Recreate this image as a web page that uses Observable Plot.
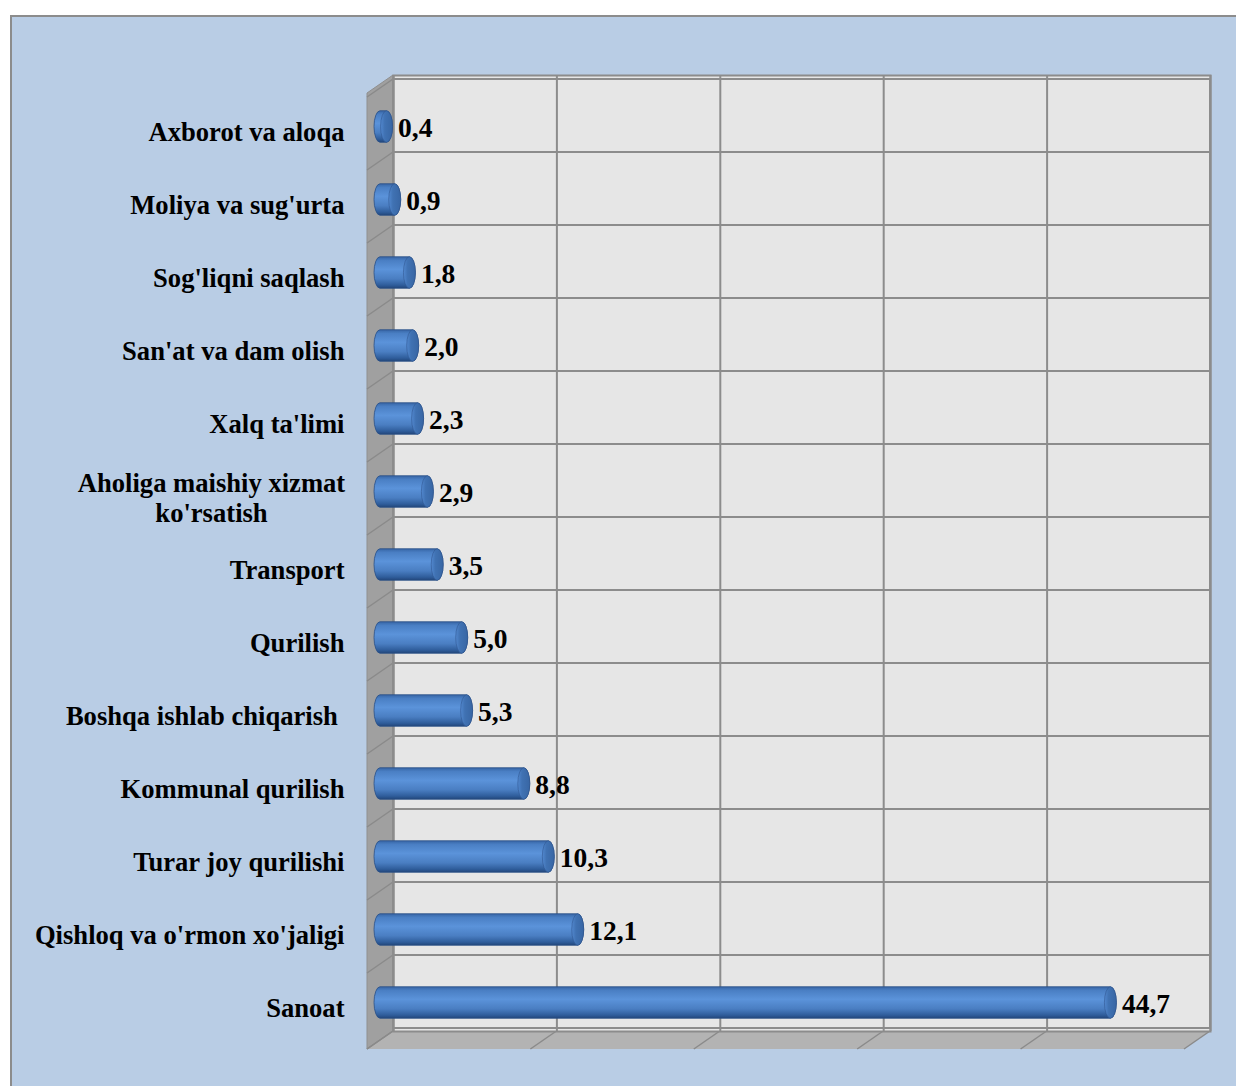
<!DOCTYPE html>
<html><head><meta charset="utf-8">
<script src="https://cdn.jsdelivr.net/npm/d3@7"></script>
<script src="https://cdn.jsdelivr.net/npm/@observablehq/plot@0.6"></script>
<style>
html,body{margin:0;padding:0;width:1236px;height:1086px;overflow:hidden;background:#fff}
#frame{position:absolute;left:10px;top:15px;width:1240px;height:1090px;background:#b9cde5;border:2px solid #8c8c8c;box-sizing:border-box}
#chart{position:absolute;left:0;top:0}
</style></head><body><div id="frame"></div><div id="chart"></div>
<script>
const categories = [
  "Axborot va aloqa",
  "Moliya va sug'urta",
  "Sog'liqni saqlash",
  "San'at va dam olish",
  "Xalq ta'limi",
  "Aholiga maishiy xizmat\nko'rsatish",
  "Transport",
  "Qurilish",
  "Boshqa ishlab chiqarish\u00a0",
  "Kommunal qurilish",
  "Turar joy qurilishi",
  "Qishloq va o'rmon xo'jaligi",
  "Sanoat"
];
const values = [0.4, 0.9, 1.8, 2.0, 2.3, 2.9, 3.5, 5.0, 5.3, 8.8, 10.3, 12.1, 44.7];
const valueLabels = ["0,4", "0,9", "1,8", "2,0", "2,3", "2,9", "3,5", "5,0", "5,3", "8,8", "10,3", "12,1", "44,7"];
const xTicks = [0, 10, 20, 30, 40, 50];

const data = categories.map((c, i) => ({category: c, value: values[i], label: valueLabels[i]}));
const singleLine = categories.filter(c => !c.includes("\n"));
const multiLine = categories.filter(c => c.includes("\n"));

// 3D look: depth vector of the floor/left wall, and offset of the bars' plane
const DX = -26, DY = 18;
const BX = -13, BY = 11;
const FONT = 26.6;
const VFONT = 27.5;

function defs() {
  const d = d3.create("svg:defs");
  const g = d.append("linearGradient").attr("id", "cyl").attr("x1", 0).attr("y1", 0).attr("x2", 0).attr("y2", 1);
  [[0, "#3766a6"], [0.12, "#4a7fc4"], [0.4, "#5b93da"], [0.7, "#4a7ec2"], [0.9, "#2f5d9b"], [1, "#22467a"]]
    .forEach(([o, c]) => g.append("stop").attr("offset", o).attr("stop-color", c));
  const h = d.append("linearGradient").attr("id", "cap").attr("x1", 0).attr("y1", 0).attr("x2", 1).attr("y2", 0);
  [[0, "#5288cf"], [0.35, "#4072b3"], [1, "#3866a4"]]
    .forEach(([o, c]) => h.append("stop").attr("offset", o).attr("stop-color", c));
  return d.node();
}

function walls(index, scales, channels, dims) {
  const x = scales.x, y = scales.y;
  const x0 = x(0), x1 = x(50);
  const top = dims.marginTop, bottom = dims.height - dims.marginBottom;
  const g = d3.create("svg:g");
  const pts = a => a.map(p => p.join(",")).join(" ");
  g.append("polygon").attr("points", pts([[x0, top], [x0 + DX, top + DY], [x0 + DX, bottom + DY], [x0, bottom]]))
    .attr("fill", "#a0a0a0").attr("stroke", "#8f8f8f").attr("stroke-width", 1);
  g.append("polygon").attr("points", pts([[x0, bottom], [x1, bottom], [x1 + DX, bottom + DY], [x0 + DX, bottom + DY]]))
    .attr("fill", "#b3b3b3");
  const bounds = categories.map(c => y(c)).concat([bottom]);
  bounds.forEach(b => g.append("line").attr("x1", x0).attr("y1", b).attr("x2", x0 + DX).attr("y2", b + DY)
    .attr("stroke", "#8a8a8a").attr("stroke-width", 1.5));
  xTicks.forEach(t => g.append("line").attr("x1", x(t)).attr("y1", bottom).attr("x2", x(t) + DX).attr("y2", bottom + DY)
    .attr("stroke", "#8a8a8a").attr("stroke-width", 1.5));
  return g.node();
}

const bw = 73.5, barH = 32, inset = (bw - barH) / 2;

const chart = Plot.plot({
  width: 1236,
  height: 1086,
  marginLeft: 393,
  marginRight: 26,
  marginTop: 75,
  marginBottom: 55,
  style: {background: "transparent", fontFamily: "'Liberation Serif', 'Times New Roman', serif"},
  x: {domain: [0, 50], axis: null},
  y: {domain: categories, padding: 0, axis: null},
  marks: [
    defs,
    walls,
    Plot.frame({fill: "#e6e6e6", stroke: "#8c8c8c", strokeWidth: 2}),
    Plot.barX(categories, {x1: 0, x2: 50, y: d => d, fill: "none", stroke: "#8c8c8c", strokeWidth: 2}),
    Plot.ruleX(xTicks, {stroke: "#8c8c8c", strokeWidth: 2}),
    Plot.barX(data, {x1: 0, x2: "value", y: "category", dx: BX, dy: BY,
      insetTop: inset, insetBottom: inset, insetLeft: -6, insetRight: -6, rx: 6, ry: 16,
      fill: "url(#cyl)", stroke: "#2a4f86", strokeWidth: 0.8}),
    Plot.barX(data, {x1: "value", x2: "value", y: "category", dx: BX, dy: BY,
      insetTop: inset, insetBottom: inset, insetLeft: -6, insetRight: -6, rx: 6, ry: 16,
      fill: "url(#cap)", stroke: "#2a4f86", strokeWidth: 0.5}),
    Plot.text(data, {x: "value", y: "category", text: "label", dx: -2, dy: 12.5, textAnchor: "start",
      fontSize: VFONT, fontWeight: "bold", fill: "black"}),
    Plot.text(singleLine, {frameAnchor: "left", y: d => d, text: d => d, dx: -49, dy: 16.5, textAnchor: "end",
      fontSize: FONT, fontWeight: "bold", fill: "black"}),
    Plot.text(multiLine, {frameAnchor: "left", y: d => d, text: d => d, dx: -182, dy: 16.5, textAnchor: "middle",
      lineHeight: 1.13, fontSize: FONT, fontWeight: "bold", fill: "black"})
  ]
});
document.getElementById("chart").appendChild(chart);
</script></body></html>
